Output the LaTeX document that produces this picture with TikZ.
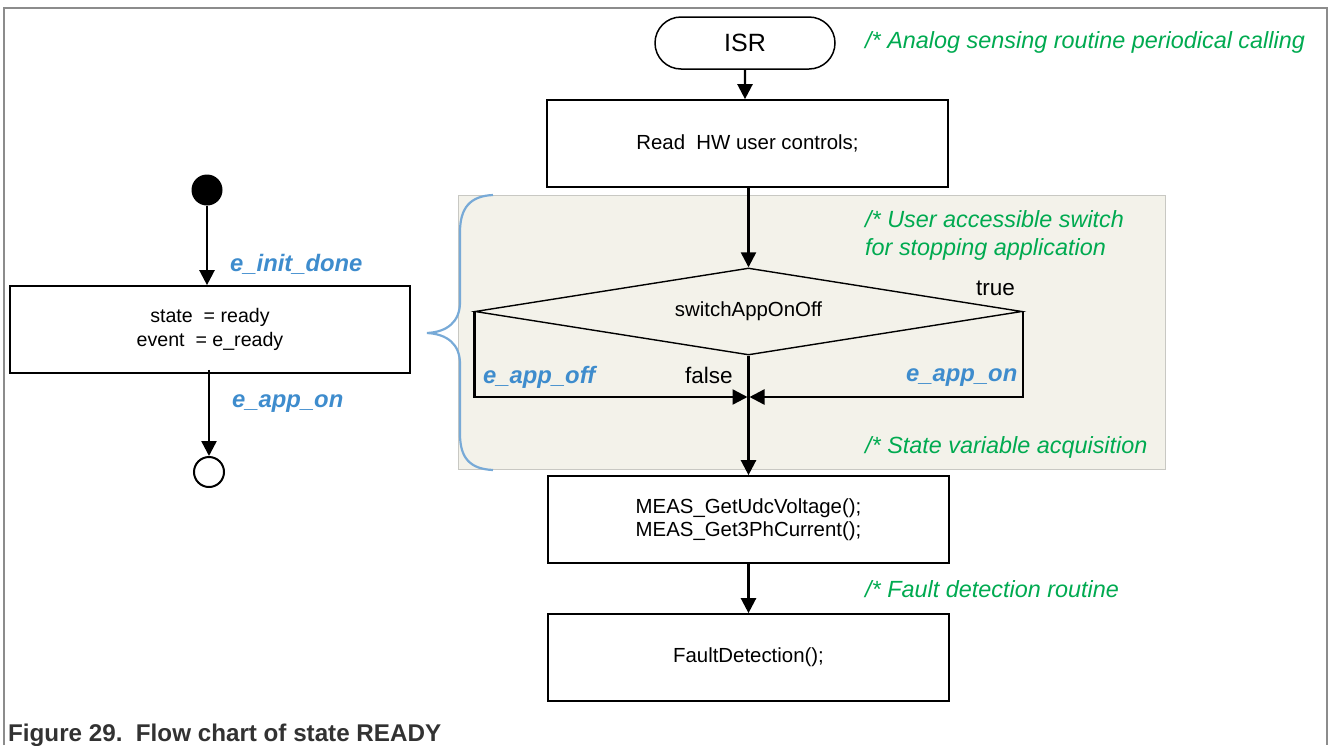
\documentclass[tikz,border=0pt]{standalone}
\usepackage{fontspec}
\setmainfont{Liberation Sans}
\usetikzlibrary{arrows.meta,shapes.geometric,shapes.misc}

\definecolor{cmtgreen}{RGB}{0,170,80}
\definecolor{evblue}{RGB}{62,140,205}
\definecolor{bracecol}{RGB}{120,170,215}
\definecolor{zonefill}{RGB}{243,242,234}
\definecolor{zoneedge}{RGB}{200,200,195}
\definecolor{framecol}{RGB}{140,140,140}
\definecolor{capcol}{RGB}{50,50,50}

\tikzset{
  stepbox/.style={draw, line width=1.7pt, minimum width=401pt, minimum height=87pt,
    inner sep=0pt, align=center, font=\fontsize{20.4}{23.5}\selectfont},
  arr/.style={line width=2.4pt, -{Triangle[length=15pt,width=15pt]}},
  cmt/.style={text=cmtgreen, font=\fontsize{23.4}{27}\selectfont\itshape, inner sep=0pt, anchor=base west},
  ev/.style={text=evblue, font=\fontsize{23.8}{27}\selectfont\bfseries\itshape, inner sep=0pt, anchor=base west},
  lbl/.style={font=\fontsize{22.5}{26}\selectfont, inner sep=0pt, anchor=base west},
}

\begin{document}
\begin{tikzpicture}[x=1pt, y=-1pt]
\useasboundingbox (0,0) rectangle (1328,745);

% figure frame (open at the bottom)
\draw[framecol, line width=1.5pt] (4,745) -- (4,8) -- (1327,8) -- (1327,745);

% shaded zone of the on/off switch
\filldraw[fill=zonefill, draw=zoneedge, line width=1pt] (458,195) rectangle (1165,469);

% brace pointing to the state box
\draw[bracecol, line width=2.2pt]
  (493,195) .. controls (470,196) and (460,208) .. (460,232) -- (460,302)
  .. controls (460,322) and (447,332) .. (427,333)
  .. controls (447,334) and (460,344) .. (460,364) -- (460,434)
  .. controls (460,458) and (470,469) .. (493,470);

% ---------------- flow chart ----------------
\node[draw, rounded rectangle, line width=1.5pt, minimum width=180pt, minimum height=52pt,
      inner sep=0pt, font=\fontsize{25}{28}\selectfont] (isr) at (745,43) {ISR};
\node[stepbox] (read) at (747.5,143.5) {Read\ \ HW user controls;};
\node[draw, diamond, line width=1.4pt, minimum width=547pt, minimum height=87pt,
      aspect=6.3, inner sep=0pt, font=\fontsize{20.4}{23.5}\selectfont] (sw) at (748.5,311.5) {switchAppOnOff};
\coordinate (join) at (748.5,397);
\node[stepbox] (meas) at (748.5,519.5) {MEAS\_GetUdcVoltage();\\MEAS\_Get3PhCurrent();};
\node[stepbox] (fault) at (748.5,657.5) {FaultDetection();};

\draw[arr] (isr) -- (read.north -| isr);
\draw[arr] (read.south -| sw.north) -- (sw.north);
\draw[arr] (sw.west) |- ([xshift=-1pt]join);
\draw[arr] (sw.east) |- ([xshift=1pt]join);
\draw[arr] (sw.south) -- (meas.north -| sw.south);
\draw[arr] (meas.south) -- (fault.north);

% branch labels
\node[lbl] (ltrue) at (976,295) {true};
\node[lbl] (lfalse) at (685,383) {false};
\node[ev] (evoff) at (483,383) {e\_app\_off};
\node[ev] (evon) at (906,381) {e\_app\_on};

% comments
\node[cmt] (c1) at (865,48) {/* Analog sensing routine periodical calling};
\node[cmt] (c2) at (865,227) {/* User accessible switch};
\node[cmt] (c3) at (865,255) {for stopping application};
\node[cmt] (c4) at (865,453) {/* State variable acquisition};
\node[cmt] (c5) at (865,597) {/* Fault detection routine};

% ---------------- state diagram ----------------
\node[circle, fill=black, minimum size=31pt, inner sep=0pt] (init) at (207,190) {};
\node[draw, line width=1.7pt, minimum width=400pt, minimum height=87pt, inner sep=0pt,
      align=center, font=\fontsize{19.6}{24}\selectfont] (ready) at (210,329.5)
      {state\ \ = ready\\event\ \ = e\_ready};
\node[circle, draw, line width=2pt, minimum size=30pt, inner sep=0pt] (final) at (209,472) {};

\draw[arr] (init) -- (init |- ready.north);
\draw[arr] ([yshift=4pt]final |- ready.south) -- (final);

\node[ev] (evinit) at (230,271) {e\_init\_done};
\node[ev] (evapp) at (232,407) {e\_app\_on};

% caption
\node[text=capcol, font=\fontsize{24.2}{28}\selectfont\bfseries, inner sep=0pt, anchor=base west]
  (cap) at (8,741) {Figure 29.\ \ Flow chart of state READY};
\end{tikzpicture}
\end{document}
